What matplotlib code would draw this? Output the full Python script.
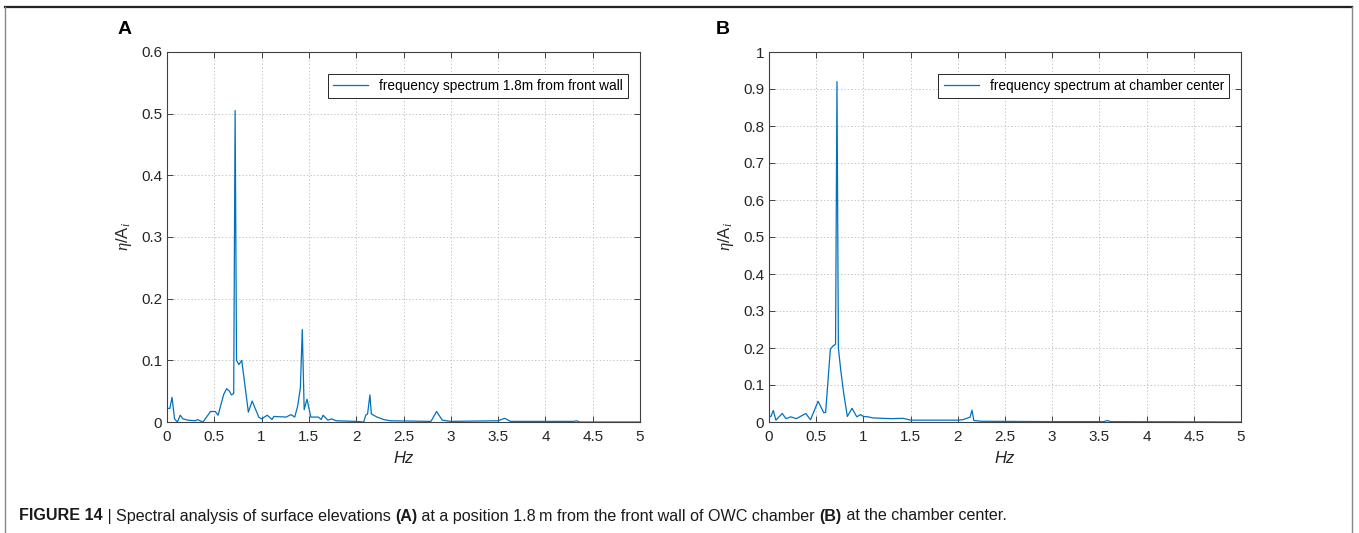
import matplotlib
matplotlib.use("Agg")
import numpy as np
import matplotlib.pyplot as plt
from matplotlib.lines import Line2D

plt.rcParams["font.family"] = ["Liberation Sans", "DejaVu Sans"]
plt.rcParams["mathtext.fontset"] = "custom"
plt.rcParams["mathtext.it"] = "Liberation Serif:italic"
plt.rcParams["mathtext.rm"] = "Liberation Sans"

# spectrum A: 1.8 m from front wall
freq_a = [0.0, 0.03, 0.053, 0.08, 0.11, 0.14, 0.17, 0.22, 0.3, 0.32, 0.38, 0.46, 0.51,
          0.54, 0.6, 0.63, 0.66, 0.68, 0.705, 0.72, 0.735, 0.76, 0.79, 0.86, 0.9, 0.97,
          1.0, 1.06, 1.11, 1.13, 1.26, 1.31, 1.35, 1.38, 1.41, 1.43, 1.45, 1.48, 1.52,
          1.6, 1.63, 1.65, 1.7, 1.74, 1.79, 2.0, 2.08, 2.1, 2.12, 2.145, 2.16, 2.22,
          2.29, 2.36, 2.79, 2.85, 2.91, 3.0, 3.5, 3.57, 3.63, 4.3, 4.33, 4.36, 5.0]
amp_a = [0.022, 0.022, 0.04, 0.005, 0.0, 0.011, 0.005, 0.003, 0.002, 0.004, 0.0, 0.017,
         0.017, 0.011, 0.045, 0.054, 0.05, 0.044, 0.046, 0.505, 0.1, 0.093, 0.1, 0.016,
         0.034, 0.008, 0.005, 0.011, 0.004, 0.009, 0.008, 0.012, 0.008, 0.025, 0.055,
         0.15, 0.02, 0.037, 0.008, 0.008, 0.004, 0.011, 0.003, 0.005, 0.002, 0.001, 0.0,
         0.011, 0.013, 0.044, 0.013, 0.008, 0.004, 0.002, 0.001, 0.017, 0.003, 0.001,
         0.002, 0.006, 0.001, 0.001, 0.002, 0.0, 0.0]

# spectrum B: chamber center
freq_b = [0.0, 0.02, 0.046, 0.073, 0.14, 0.18, 0.23, 0.29, 0.39, 0.44, 0.52, 0.58, 0.6,
          0.65, 0.68, 0.705, 0.72, 0.735, 0.76, 0.79, 0.83, 0.88, 0.93, 0.97, 1.0, 1.05,
          1.1, 1.3, 1.42, 1.5, 2.0, 2.05, 2.13, 2.15, 2.17, 2.25, 3.0, 3.55, 3.58, 3.62, 5.0]
amp_b = [0.014, 0.015, 0.031, 0.005, 0.023, 0.009, 0.014, 0.009, 0.023, 0.006, 0.056,
         0.025, 0.026, 0.197, 0.206, 0.21, 0.92, 0.2, 0.14, 0.08, 0.015, 0.037, 0.014,
         0.02, 0.015, 0.014, 0.011, 0.009, 0.01, 0.005, 0.005, 0.006, 0.013, 0.032,
         0.004, 0.002, 0.001, 0.001, 0.004, 0.001, 0.0]

line_col = "#0072BD"
ax_col = "#404040"

fig = plt.figure(figsize=(13.59, 5.33), dpi=100)
W, H = 1359, 533

def panel(x0, x1, y0, y1, f, a, ylim, yticks, label, letter, lx):
    ax = fig.add_axes([x0 / W, 1 - y1 / H, (x1 - x0) / W, (y1 - y0) / H])
    ax.plot(f, a, color=line_col, lw=0.9, label=label)
    ax.set_xlim(0, 5)
    ax.set_ylim(*ylim)
    ax.set_xticks(np.arange(0, 5.01, 0.5))
    ax.set_xticklabels(["0", "0.5", "1", "1.5", "2", "2.5", "3", "3.5", "4", "4.5", "5"])
    ax.set_yticks(yticks)
    ax.set_yticklabels([("%g" % t) for t in yticks])
    ax.grid(True, ls=(0, (1.5, 2)), color="#c8c8c8", lw=0.7)
    ax.tick_params(direction="in", top=True, right=True, length=4, colors=ax_col,
                   labelcolor="#262626", labelsize=11, width=0.7)
    ax.tick_params(axis="x", pad=6)
    for s in ax.spines.values():
        s.set_color(ax_col)
        s.set_linewidth(0.8)
    ax.set_xlabel("Hz", fontstyle="italic", fontsize=12, color="#262626", labelpad=5)
    ax.set_ylabel(r"$\eta$/A$_i$", fontsize=12, color="#262626", labelpad=5)
    leg = ax.legend(loc="upper right", fontsize=9.8, fancybox=False, framealpha=1,
                    edgecolor="#262626", handlelength=2.6, borderpad=0.4,
                    bbox_to_anchor=(0.99, 0.96))
    leg.get_frame().set_linewidth(0.7)
    fig.text(lx / W, 1 - 30 / H, letter, fontsize=14, fontweight="bold",
             ha="left", va="center")
    return ax

panel(167, 640, 52, 422, freq_a, amp_a, (0, 0.6), np.arange(0, 0.61, 0.1),
      "frequency spectrum 1.8m from front wall", "A", 118)
panel(769, 1241, 52, 422, freq_b, amp_b, (0, 1), np.arange(0, 1.01, 0.1),
      "frequency spectrum at chamber center", "B", 716)

# frame around the figure
fig.add_artist(Line2D([5 / W, 1352 / W], [1 - 7 / H, 1 - 7 / H], color="#222222", lw=1.6))
fig.add_artist(Line2D([5 / W, 5 / W], [0, 1 - 7 / H], color="#888888", lw=1.0))
fig.add_artist(Line2D([1352 / W, 1352 / W], [0, 1 - 7 / H], color="#888888", lw=1.0))

# caption, mixed bold / regular pieces
pieces = [("FIGURE 14", "bold"), (" | ", "normal"),
          ("Spectral analysis of surface elevations ", "normal"), ("(A)", "bold"),
          (" at a position 1.8\u2009m from the front wall of OWC chamber ", "normal"),
          ("(B)", "bold"), (" at the chamber center.", "normal")]
renderer = fig.canvas.get_renderer()
x = 19
for txt, wt in pieces:
    t = fig.text(x / W, 1 - 516 / H, txt, fontsize=11.6, fontweight=wt,
                 family=["Liberation Sans", "DejaVu Sans"],
                 color="#1a1a1a", ha="left", va="center")
    x += t.get_window_extent(renderer).width

fig.savefig("out.png", dpi=100)
